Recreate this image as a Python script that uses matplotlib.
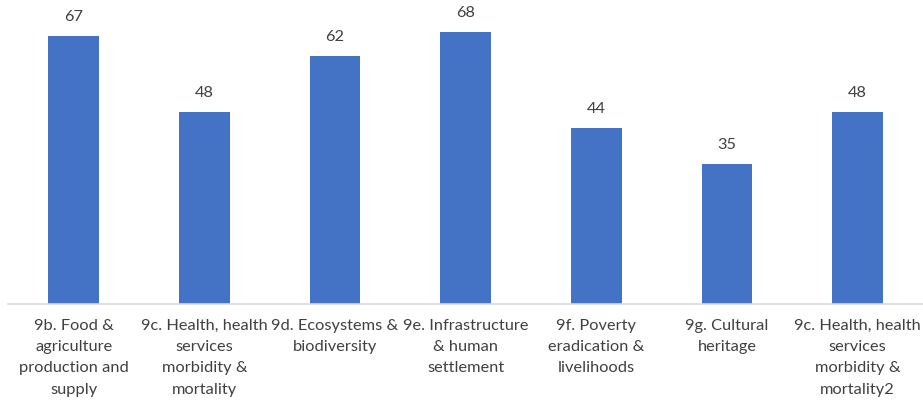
import matplotlib.pyplot as plt

# Impact categories and counts
categories = [
    "9b. Food &\nagriculture\nproduction and\nsupply",
    "9c. Health, health\nservices\nmorbidity &\nmortality",
    "9d. Ecosystems &\nbiodiversity",
    "9e. Infrastructure\n& human\nsettlement",
    "9f. Poverty\neradication &\nlivelihoods",
    "9g. Cultural\nheritage",
    "9c. Health, health\nservices\nmorbidity &\nmortality2",
]
counts = [67, 48, 62, 68, 44, 35, 48]

BAR_COLOR = "#4472C4"
TEXT_COLOR = "#404040"

plt.rcParams['font.family'] = ['Lato', 'DejaVu Sans']

fig = plt.figure(figsize=(9.23, 4.02), dpi=100)
ax = fig.add_axes([0.009, 0.2413, 0.991, 0.7587])

x = range(len(counts))
bars = ax.bar(x, counts, width=0.39, color=BAR_COLOR)

for b, v in zip(bars, counts):
    ax.text(b.get_x() + b.get_width() / 2, v + 3.2, str(v),
            ha='center', va='bottom', fontsize=11.8, color=TEXT_COLOR)

ax.set_xlim(-0.5, len(counts) - 0.5)
ax.set_ylim(0, 76.25)
ax.set_xticks(list(x))
ax.set_xticklabels(categories, fontsize=11.8, color=TEXT_COLOR, linespacing=1.66)
ax.tick_params(axis='x', length=0, pad=10)
ax.set_yticks([])

for side in ['top', 'right', 'left']:
    ax.spines[side].set_visible(False)
ax.spines['bottom'].set_color('#D9D9D9')
ax.spines['bottom'].set_linewidth(1.2)

fig.savefig('out.png', dpi=100)
